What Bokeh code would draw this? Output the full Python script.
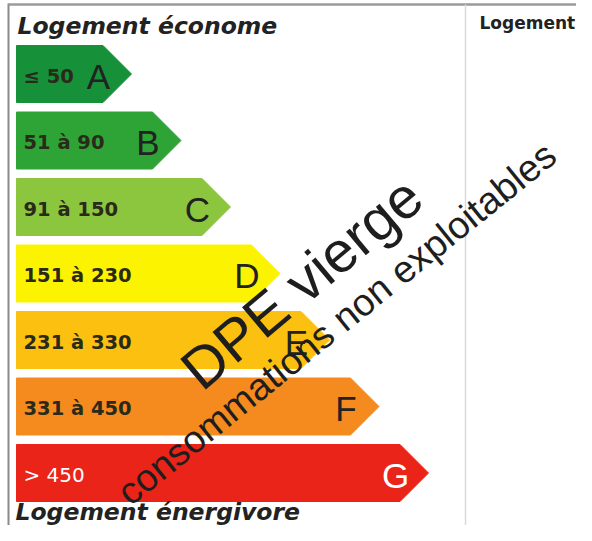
import math
from bokeh.plotting import figure
from bokeh.models import Range1d, ColumnDataSource
from bokeh.core.properties import value
from bokeh.embed import file_html
from bokeh.resources import INLINE

# ---- data ----
classes = ["A", "B", "C", "D", "E", "F", "G"]
ranges = ["\u2264 50", "51 \u00e0 90", "91 \u00e0 150", "151 \u00e0 230",
          "231 \u00e0 330", "331 \u00e0 450", ">  450"]
colors = ["#17903a", "#2fa436", "#8cc63e", "#fcf300", "#fcc010", "#f58a1f", "#ea2418"]
top_title = "Logement \u00e9conome"
bottom_title = "Logement \u00e9nergivore"
side_title = "Logement"
stamp1 = "DPE vierge"
stamp2 = "consommations non exploitables"

W, H = 576, 525
p = figure(width=W, height=H, output_backend="svg", toolbar_location=None,
           x_range=Range1d(0, W), y_range=Range1d(H, 0),
           min_border=0, outline_line_color=None)
p.axis.visible = False
p.grid.visible = False
p.background_fill_color = "white"

# frame lines
p.line([8, 8], [3, 525], line_color="#8a8a8a", line_width=2)
p.line([8, 576], [4, 4], line_color="#9a9a9a", line_width=2.5)
p.line([465, 465], [4, 525], line_color="#d9d9d9", line_width=1.5)

# bars
x0 = 16
top0, step_y, bh = 45, 66.5, 57
tip0, step_x = 131, 49.5
xs, ys, lx, ly, tx = [], [], [], [], []
for i in range(len(classes)):
    t = top0 + i * step_y
    b = t + bh
    tip = tip0 + i * step_x
    re = tip - bh / 2
    xs.append([x0, re, tip, re, x0])
    ys.append([t, t, (t + b) / 2, b, b])
    lx.append(tip - 33)
    ly.append((t + b) / 2 + 2)
    tx.append(23)

src = ColumnDataSource(dict(xs=xs, ys=ys, c=colors))
p.patches("xs", "ys", source=src, fill_color="c", line_color="c", line_width=1)

tsrc = ColumnDataSource(dict(x=tx[:-1], y=ly[:-1], t=ranges[:-1]))
p.text("x", "y", text="t", source=tsrc, text_font=value("DejaVu Sans"),
       text_font_style="bold", text_font_size="19.5px", text_color="#2a2a1a",
       text_baseline="middle", text_align="left")
p.text([tx[-1]], [ly[-1]], text=[ranges[-1]], text_font=value("DejaVu Sans"),
       text_font_size="20px", text_color="white",
       text_baseline="middle", text_align="left")

lsrc = ColumnDataSource(dict(x=lx[:-1], y=ly[:-1], t=classes[:-1]))
p.text("x", "y", text="t", source=lsrc, text_font=value("Liberation Sans"),
       text_font_size="35px", text_color="#222222",
       text_baseline="middle", text_align="center")
p.text([lx[-1]], [ly[-1]], text=[classes[-1]], text_font=value("Liberation Sans"),
       text_font_size="35px", text_color="white",
       text_baseline="middle", text_align="center")

# titles
p.text([17], [25], text=[top_title], text_font=value("DejaVu Sans"),
       text_font_style="bold italic", text_font_size="23.5px", text_color="#222222",
       text_baseline="middle", text_align="left")
p.text([15], [511], text=[bottom_title], text_font=value("DejaVu Sans"),
       text_font_style="bold italic", text_font_size="23.5px", text_color="#222222",
       text_baseline="middle", text_align="left")
p.text([479], [22], text=[side_title], text_font=value("DejaVu Sans"),
       text_font_style="bold", text_font_size="17px", text_color="#222222",
       text_baseline="middle", text_align="left")

# stamp
p.text([301], [282], text=[stamp1], angle=math.radians(40),
       text_font=value("Liberation Sans"), text_font_size="58px", text_color="#1e1e1e",
       text_baseline="middle", text_align="center")
p.text([336], [323], text=[stamp2], angle=math.radians(39),
       text_font=value("Liberation Sans"), text_font_size="38px", text_color="#1e1e1e",
       text_baseline="middle", text_align="center")

open("out.html", "w").write(file_html(p, INLINE))
